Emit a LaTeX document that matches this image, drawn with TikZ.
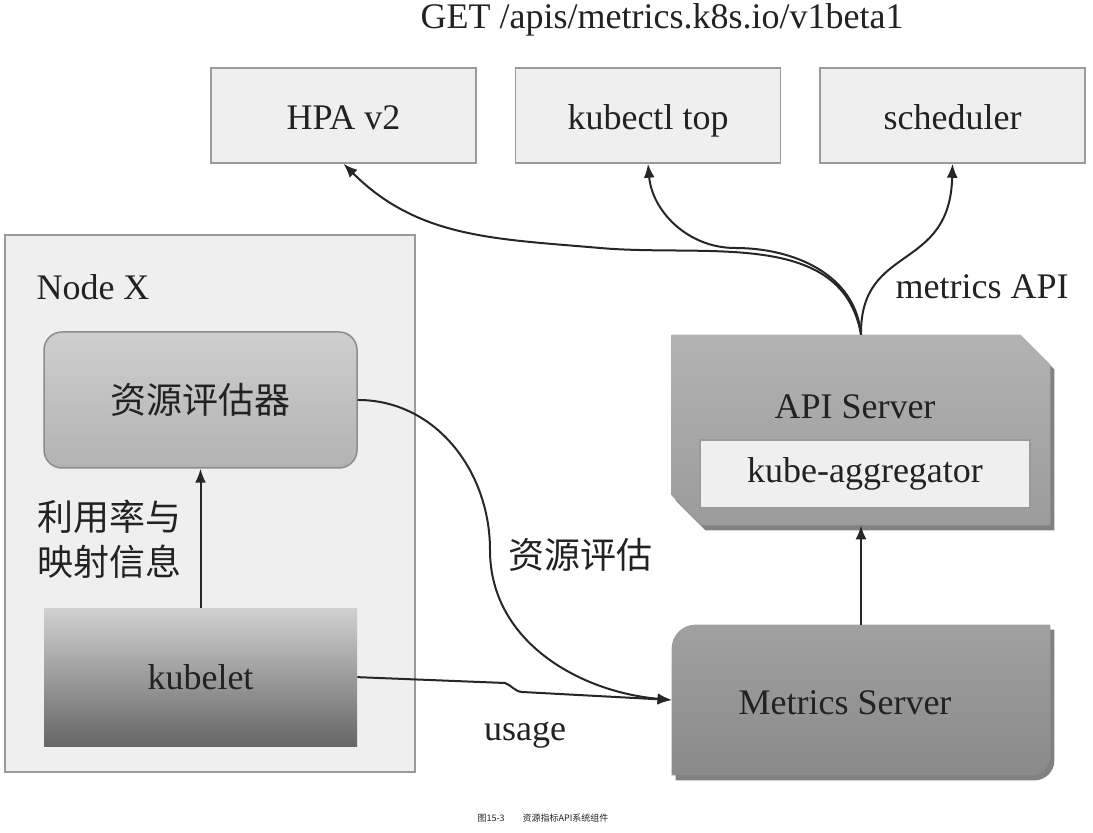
\documentclass[tikz,border=0pt]{standalone}
\usepackage{fontspec}
\setmainfont{Liberation Serif}
\newfontfamily\cjk{Noto Sans CJK SC}
\usepackage{tikz}
\usetikzlibrary{arrows, arrows.meta, shapes, positioning, shadows, backgrounds}

\definecolor{txtgray}{HTML}{222222}
\definecolor{boxgray}{HTML}{EFEFEF}
\definecolor{linegray}{HTML}{9A9A9A}

\begin{document}
\begin{tikzpicture}[x=0.5pt, y=0.5pt,
        every node/.style={font=\fontsize{18}{22.5}\selectfont, text=txtgray},
        cjktext/.style={font=\cjk\fontsize{18}{22.5}\selectfont},
        client/.style={rectangle, draw=linegray, line width=0.75pt, fill=boxgray, minimum width=132.5pt, minimum height=47.5pt, text height=16pt, text depth=1.6pt},
        frame/.style={rectangle, draw=linegray, line width=0.75pt, fill=boxgray, minimum width=205pt, minimum height=268.5pt},
        est/.style={rectangle, rounded corners=9pt, draw=black!45, line width=0.75pt, top color=black!19, bottom color=black!30, minimum width=156.5pt, minimum height=68pt},
        kub/.style={rectangle, top color=black!18, middle color=black!33, bottom color=black!60, minimum width=156.5pt, minimum height=69pt},
        srvbox/.style={rectangle, inner sep=0pt, minimum width=189pt},
        srvshade/.style={drop shadow={shadow xshift=2pt, shadow yshift=-2.5pt, fill=black!70, opacity=0.7}},
        agg/.style={rectangle, draw=linegray, line width=0.75pt, fill=boxgray, minimum width=165pt, minimum height=34pt},
        conn/.style={-{Latex[length=7pt, width=5.5pt]}, line width=1pt, draw=black!85}]
    \useasboundingbox (0,0) rectangle (1093,833);

    % clients of the metrics API
    \node (get) at (662,813) {GET /apis/metrics.k8s.io/v1beta1};
    \node[client] (hpa) at (343.5,717.5) {HPA v2};
    \node[client] (top) [right=19pt of hpa] {kubectl top};
    \node[client] (sched) [right=19pt of top] {scheduler};

    % node side
    \node[frame] (nodex) at (210,329.5) {};
    \node (nxlabel) at (93,546) {Node X};
    \node[est, cjktext] (est) at (200.5,433) {资源评估器};
    \node[kub] (kubelet) [below=69.5pt of est] {kubelet};
    \node[cjktext, align=left] (usemap) at (109,293.5) {利用率与\\映射信息};

    % server side
    \node[srvbox, minimum height=95pt, label={[xshift=-3pt, yshift=11.5pt]center:API Server}] (api) at (861,403) {};
    \node[agg] (agg) at (865,359) {kube-aggregator};
    \node[srvbox, minimum height=75pt, label={[xshift=-8pt, yshift=-1.5pt]center:Metrics Server}] (ms) at (861,133) {};
    \node (mapi) at (982,546) {metrics API};

    \begin{scope}[on background layer]
        \path[srvshade, top color=black!30, bottom color=black!39]
            ([yshift=15pt]api.south west) -- (api.north west) -- ([xshift=-15pt]api.north east)
            -- ([yshift=-15pt]api.north east) -- (api.south east) -- ([xshift=15pt]api.south west) -- cycle;
        \path[srvshade, top color=black!37, bottom color=black!46]
            ([yshift=-12pt]ms.north west) arc[start angle=180, end angle=90, radius=12pt] -- (ms.north east)
            -- ([yshift=10pt]ms.south east) arc[start angle=0, end angle=-90, radius=10pt] -- (ms.south west) -- cycle;
    \end{scope}

    % connectors
    \draw[conn] (kubelet.north) -- (est.south);
    \draw[conn] (ms.north) -- (api.south);
    \draw[conn] (api.north) to[out=100, in=-5] (600,585) to[out=175, in=-45] (hpa.south);
    \draw[conn] (api.north) to[out=95, in=0] (735,585) to[out=180, in=-85] (top.south);
    \draw[conn] (api.north) .. controls (860,590) and (950,560) .. (sched.south);
    \draw[conn] (est.east) to[out=0, in=90] (490,283) to[out=-90, in=175] (ms.west);
    \draw[conn] (kubelet.east) -- (505,150) to[out=-20, in=175] (522,141) -- (ms.west);

    \node[cjktext] (estlabel) at (580,278) {资源评估};
    \node (usage) at (525,98) {usage};

    \node[font=\cjk\fontsize{4.5}{5}\selectfont] (caption) at (543,15) {图15-3\quad\quad 资源指标API系统组件};
\end{tikzpicture}
\end{document}
